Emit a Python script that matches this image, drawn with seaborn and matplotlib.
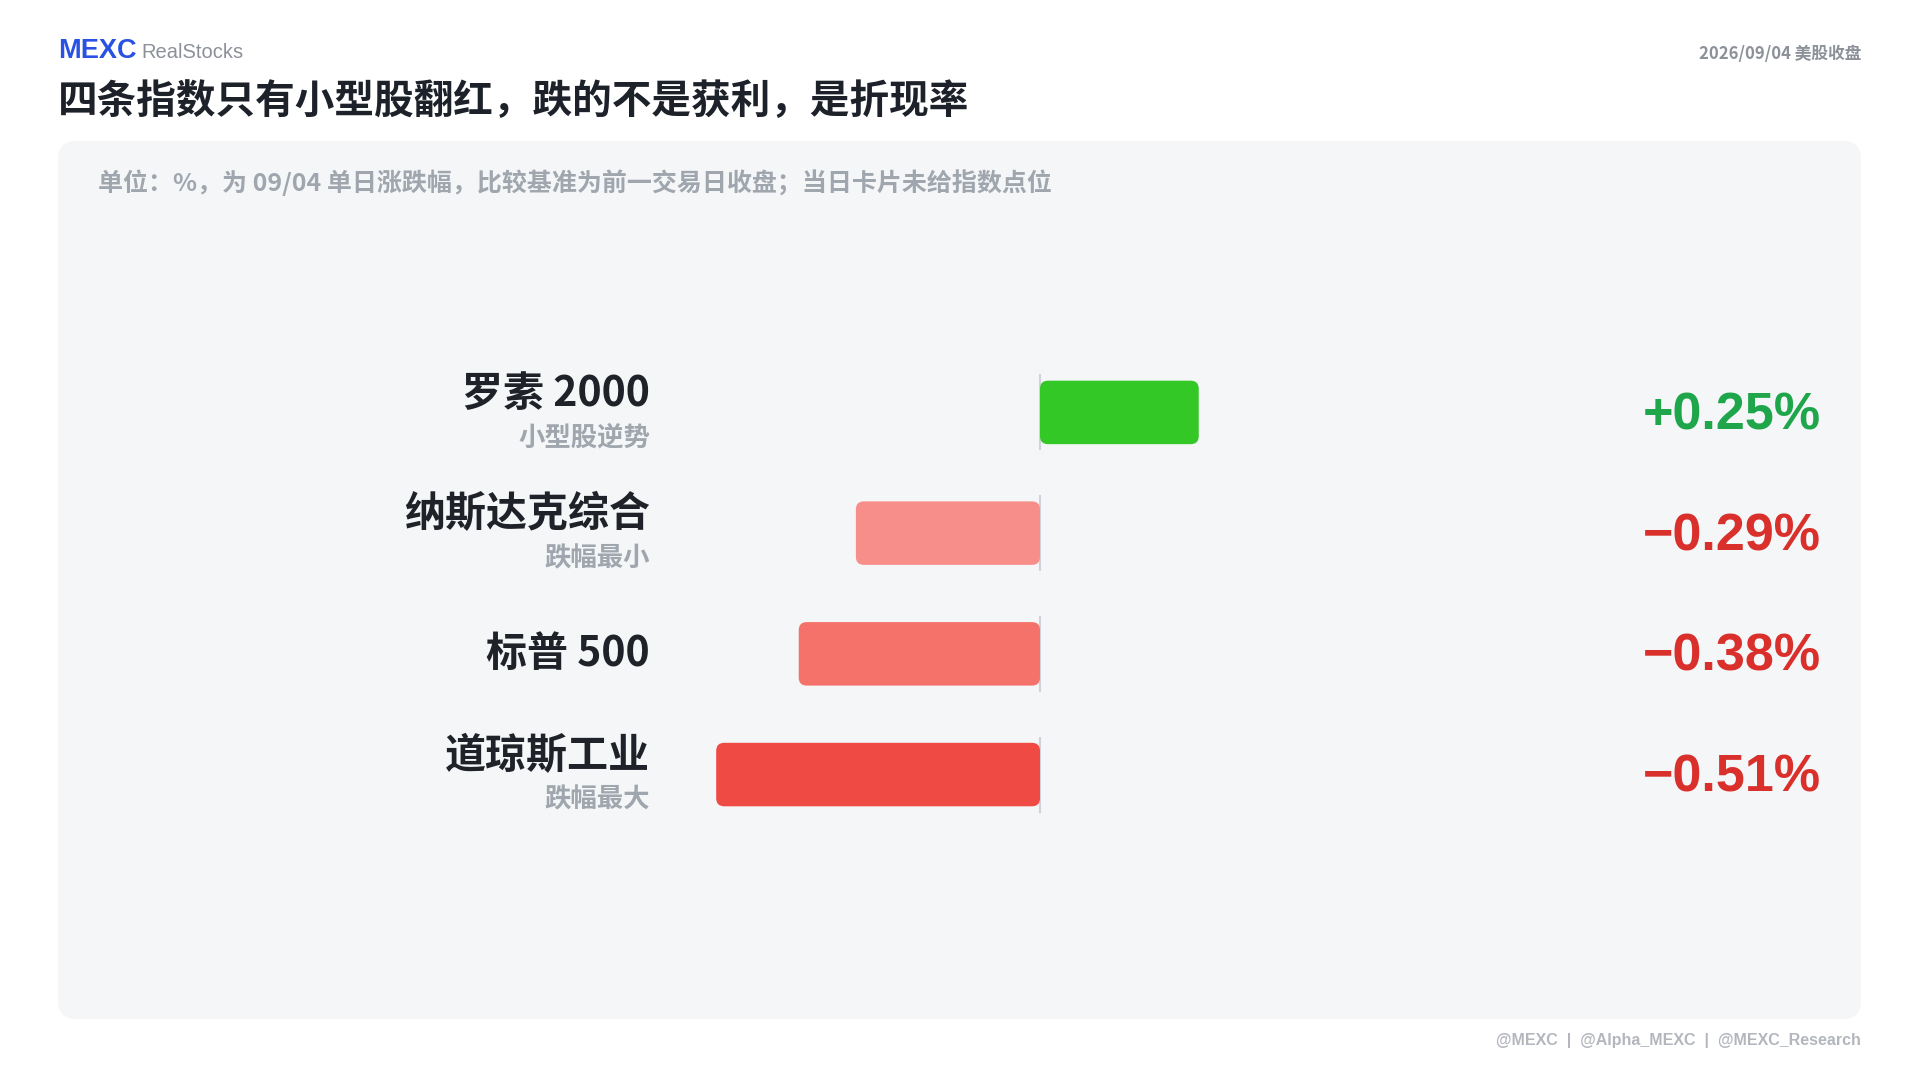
import numpy as np
import pandas as pd
import matplotlib
matplotlib.use("Agg")
import matplotlib.pyplot as plt
import matplotlib.transforms as mtransforms
from matplotlib.patches import FancyBboxPatch
import seaborn as sns

indices = ["罗素 2000", "纳斯达克综合", "标普 500", "道琼斯工业"]
notes = ["小型股逆势", "跌幅最小", "", "跌幅最大"]
changes = [0.25, -0.29, -0.38, -0.51]
bar_colors = ["#34c826", "#f88e89", "#f5726a", "#f04a45"]

df = pd.DataFrame({"index": indices, "change": changes, "note": notes})

sns.set_theme(style="white")
plt.rcParams["font.family"] = ["Noto Sans CJK SC", "DejaVu Sans"]

W, H = 1920, 1080
fig = plt.figure(figsize=(19.2, 10.8), dpi=100)
fig.patch.set_facecolor("white")


def fx(px):
    return px / W


def fy(py):
    return 1 - py / H


# light grey card behind the chart
card = FancyBboxPatch((fx(58), fy(1019)), fx(1861) - fx(58), fy(141) - fy(1019),
                      boxstyle="round,pad=0,rounding_size=%f" % (18 / W),
                      mutation_aspect=W / H, transform=fig.transFigure,
                      facecolor="#f4f6f8", edgecolor="none", zorder=-5)
fig.patches.append(card)

# chart axes
ax_l, ax_r, ax_t, ax_b = 680, 1800, 340, 850
xlo, xhi = -0.567, 1.197
ylo, yhi = 3.625, -0.6
ax = fig.add_axes([fx(ax_l), fy(ax_b), (ax_r - ax_l) / W, (ax_b - ax_t) / H])
ax.set_facecolor("none")

sns.barplot(data=df, x="change", y="index", hue="index", palette=bar_colors,
            legend=False, orient="h", width=0.526, linewidth=0, saturation=1, ax=ax)

ax.set_xlim(xlo, xhi)
ax.set_ylim(ylo, yhi)
ax.axis("off")

# rounded bars
px_x = (ax_r - ax_l) / (xhi - xlo)
px_y = (ax_b - ax_t) / (ylo - yhi)
for bar in list(ax.patches):
    x0, y0 = bar.get_x(), bar.get_y()
    w, h = bar.get_width(), bar.get_height()
    rb = FancyBboxPatch((min(x0, x0 + w), y0), abs(w), h,
                        boxstyle="round,pad=0,rounding_size=%f" % (8 / px_x),
                        mutation_aspect=px_x / px_y,
                        facecolor=bar.get_facecolor(), edgecolor="none", zorder=2)
    ax.add_patch(rb)
    bar.remove()

# zero line, one short piece per row
pos = np.arange(len(indices))
ax.vlines(np.zeros(len(pos)), pos - 0.315, pos + 0.315, color="#cfd3d9", lw=1.5, zorder=1)

trans = mtransforms.blended_transform_factory(fig.transFigure, ax.transData)
for i, row in df.iterrows():
    if row["note"]:
        ax.text(fx(650), i - 0.156, row["index"], transform=trans, ha="right", va="center",
                fontsize=29.5, fontweight="bold", color="#1f2329")
        ax.text(fx(650), i + 0.21, row["note"], transform=trans, ha="right", va="center",
                fontsize=19, fontweight="bold", color="#a0a6ae")
    else:
        ax.text(fx(650), i, row["index"], transform=trans, ha="right", va="center",
                fontsize=29.5, fontweight="bold", color="#1f2329")
    v = row["change"]
    label = f"+{v:.2f}%" if v > 0 else f"\u2212{abs(v):.2f}%"
    ax.text(fx(1821), i + 0.03, label, transform=trans, ha="right", va="center",
            fontsize=37.5, fontweight="bold", family="Liberation Sans",
            color="#1fa64a" if v > 0 else "#d9302c")

# header
fig.text(fx(58), fy(51), "MEXC", fontsize=19.5, fontweight="bold", color="#2952e3",
         family="Liberation Sans", va="center")
fig.text(fx(141), fy(52), "RealStocks", fontsize=14.5, color="#8c9199",
         family="Liberation Sans", va="center")
fig.text(fx(1861), fy(54), "2026/09/04 美股收盘", ha="right", va="center",
         fontsize=12, fontweight="bold", color="#8c9199")
fig.text(fx(58), fy(101), "四条指数只有小型股翻红，跌的不是获利，是折现率", va="center",
         fontsize=28.5, fontweight="bold", color="#1d2129")
fig.text(fx(98), fy(183), "单位：%，为 09/04 单日涨跌幅，比较基准为前一交易日收盘；当日卡片未给指数点位",
         va="center", fontsize=18, fontweight="bold", color="#a0a6ae")

# footer
fig.text(fx(1861), fy(1040), "@MEXC  |  @Alpha_MEXC  |  @MEXC_Research", ha="right", va="center",
         fontsize=11.5, fontweight="bold", color="#b3b7bd", family="Liberation Sans")

fig.savefig("out.png", dpi=100)
